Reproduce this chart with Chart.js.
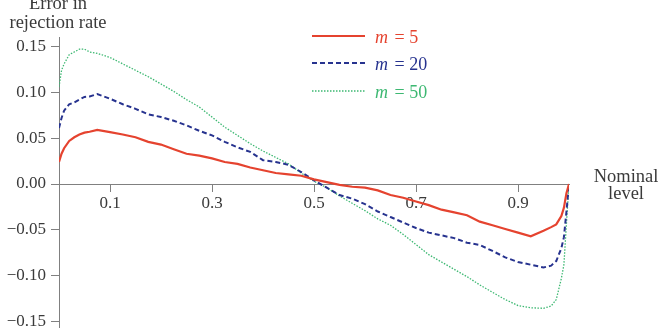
<!DOCTYPE html>
<html>
<head>
<meta charset="utf-8">
<script src="https://cdn.jsdelivr.net/npm/chart.js@4.4.1/dist/chart.umd.min.js"></script>
<style>
  html, body { margin: 0; padding: 0; background: #fff; }
  #wrap { width: 658px; height: 328px; position: relative; }
</style>
</head>
<body>
<div id="wrap"><canvas id="grafico"></canvas></div>
<script>
// niveles nominales (eje x)
var nivel = [0, 0.005, 0.01, 0.02, 0.03, 0.04, 0.05, 0.06, 0.075, 0.1, 0.125, 0.15, 0.175, 0.2, 0.225, 0.25, 0.275, 0.3,
  0.325, 0.35, 0.375, 0.4, 0.425, 0.45, 0.475, 0.5, 0.525, 0.55, 0.575, 0.6, 0.625, 0.65, 0.675, 0.7, 0.725, 0.75,
  0.775, 0.8, 0.825, 0.85, 0.875, 0.9, 0.925, 0.95, 0.965, 0.975, 0.985, 0.99, 0.995, 1];

var errorM5 = [0.024, 0.033, 0.039, 0.047, 0.051, 0.054, 0.056, 0.057, 0.059, 0.0565, 0.054, 0.051, 0.046, 0.043, 0.038,
  0.033, 0.031, 0.028, 0.024, 0.022, 0.018, 0.015, 0.012, 0.0105, 0.009, 0.005, 0.002, -0.001, -0.003, -0.004, -0.007,
  -0.012, -0.015, -0.019, -0.023, -0.028, -0.031, -0.034, -0.041, -0.045, -0.049, -0.053, -0.057, -0.051, -0.047,
  -0.044, -0.035, -0.026, -0.010, 0];

var errorM20 = [0.061, 0.072, 0.080, 0.087, 0.089, 0.092, 0.095, 0.0955, 0.098, 0.093, 0.087, 0.082, 0.076, 0.073, 0.069,
  0.064, 0.058, 0.053, 0.046, 0.040, 0.035, 0.026, 0.024, 0.021, 0.013, 0.004, -0.004, -0.012, -0.016, -0.022, -0.030,
  -0.036, -0.042, -0.048, -0.053, -0.056, -0.059, -0.064, -0.0665, -0.073, -0.080, -0.085, -0.088, -0.091, -0.089,
  -0.084, -0.070, -0.058, -0.030, 0];

var errorM50 = [0.106, 0.124, 0.131, 0.141, 0.144, 0.147, 0.147, 0.144, 0.1425, 0.138, 0.131, 0.124, 0.117, 0.109, 0.101,
  0.092, 0.084, 0.073, 0.062, 0.053, 0.044, 0.036, 0.029, 0.022, 0.012, 0.003, -0.004, -0.013, -0.021, -0.029, -0.038,
  -0.045, -0.055, -0.066, -0.077, -0.085, -0.093, -0.101, -0.110, -0.118, -0.126, -0.1325, -0.135, -0.1355, -0.133,
  -0.126, -0.103, -0.088, -0.043, 0];

var ticksX = [0.1, 0.3, 0.5, 0.7, 0.9];
var ticksY = [-0.15, -0.10, -0.05, 0, 0.05, 0.10, 0.15];
var etiquetas = ["5", "20", "50"];

var fuente = "'Liberation Serif', 'DejaVu Serif', serif";
var colorTexto = "#3a3a3a";
var colorEje = "#808080";

function puntos(valores) {
  return nivel.map(function (x, i) {
    return { x: x, y: valores[i] };
  });
}

function formatoNum(v) {
  var s = Math.abs(v).toFixed(2);
  if (v < 0) return "\u2212" + s;
  return s;
}

// textos del eje y la leyenda
var textos = {
  id: "textos",
  afterDraw: function (chart) {
    var ctx = chart.ctx;
    ctx.save();
    ctx.fillStyle = colorTexto;
    ctx.font = "18.5px " + fuente;
    ctx.textAlign = "center";
    ctx.textBaseline = "alphabetic";
    ctx.fillText("Error in", 58, 9);
    ctx.fillText("rejection rate", 58, 28);
    ctx.fillText("Nominal", 626, 182);
    ctx.fillText("level", 626, 199);

    // leyenda
    var filas = [36, 63, 91];
    chart.data.datasets.forEach(function (ds, i) {
      var y = filas[i];
      ctx.strokeStyle = ds.borderColor;
      ctx.lineWidth = ds.borderWidth;
      ctx.setLineDash(ds.borderDash || []);
      ctx.beginPath();
      ctx.moveTo(312, y);
      ctx.lineTo(365, y);
      ctx.stroke();
      ctx.setLineDash([]);
      ctx.fillStyle = ds.borderColor;
      ctx.textAlign = "left";
      ctx.textBaseline = "middle";
      ctx.font = "italic 18px " + fuente;
      ctx.fillText("m", 375, y + 2);
      var w = ctx.measureText("m").width;
      ctx.font = "18px " + fuente;
      ctx.fillText("\u2009= " + etiquetas[i], 375 + w + 3, y + 2);
    });
    ctx.restore();
  },
};

var ctx = document.getElementById("grafico");
var grafico = new Chart(ctx, {
  type: "line",
  data: {
    datasets: [
      {
        label: "m = 5",
        data: puntos(errorM5),
        borderColor: "#e5432f",
        borderWidth: 2.2,
        pointRadius: 0,
        tension: 0,
      },
      {
        label: "m = 20",
        data: puntos(errorM20),
        borderColor: "#27338f",
        borderWidth: 2,
        borderDash: [5, 3],
        pointRadius: 0,
        tension: 0,
      },
      {
        label: "m = 50",
        data: puntos(errorM50),
        borderColor: "#3db872",
        borderWidth: 1.3,
        borderDash: [1.5, 1.5],
        pointRadius: 0,
        tension: 0,
      },
    ],
  },
  options: {
    responsive: true,
    maintainAspectRatio: false,
    animation: false,
    layout: { padding: { top: 37, right: 89, bottom: 0, left: 0 } },
    plugins: {
      legend: { display: false },
      tooltip: { enabled: false },
    },
    scales: {
      x: {
        type: "linear",
        min: 0,
        max: 1,
        position: { y: 0 },
        afterFit: function (s) {
          s.height = 0;
          s.paddingLeft = 0;
          s.paddingRight = 0;
        },
        afterBuildTicks: function (s) {
          s.ticks = ticksX.map(function (v) {
            return { value: v };
          });
        },
        grid: { drawOnChartArea: false, drawTicks: true, tickLength: 7, color: colorEje, lineWidth: 1 },
        border: { display: true, color: colorEje, width: 1 },
        ticks: {
          color: colorTexto,
          font: { family: fuente, size: 17 },
          padding: 2,
          maxRotation: 0,
          callback: function (v) {
            return String(v);
          },
        },
      },
      y: {
        type: "linear",
        min: -0.157,
        max: 0.1603,
        afterFit: function (s) {
          s.width = 59;
          s.paddingTop = 0;
          s.paddingBottom = 0;
        },
        afterBuildTicks: function (s) {
          s.ticks = ticksY.map(function (v) {
            return { value: v };
          });
        },
        grid: { drawOnChartArea: false, drawTicks: true, tickLength: 8, color: colorEje, lineWidth: 1 },
        border: { display: true, color: colorEje, width: 1 },
        ticks: {
          color: colorTexto,
          font: { family: fuente, size: 17 },
          padding: 5,
          callback: function (v) {
            return formatoNum(v);
          },
        },
      },
    },
  },
  plugins: [textos],
});
</script>
</body>
</html>
